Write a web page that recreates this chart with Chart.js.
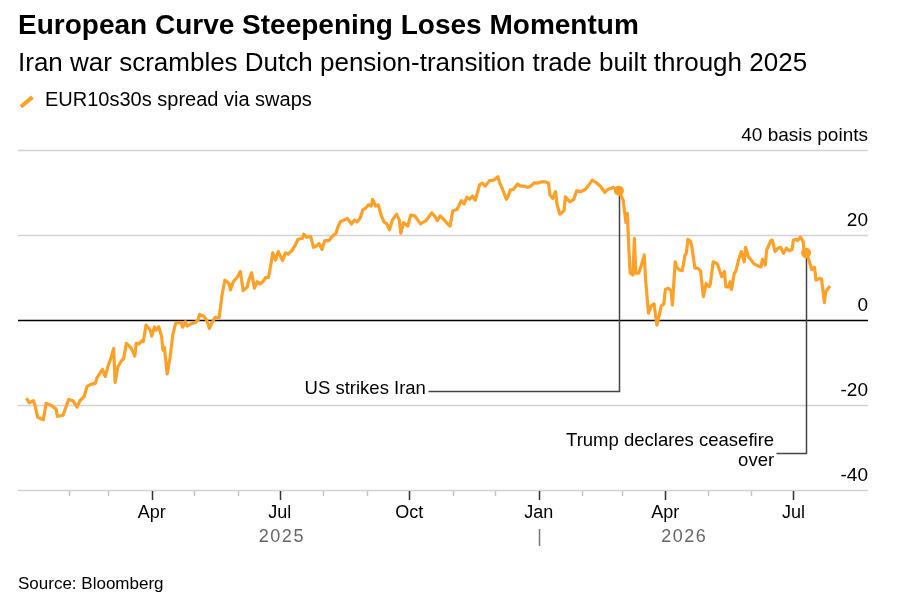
<!DOCTYPE html>
<html lang="en">
<head>
<meta charset="UTF-8">
<title>European Curve Steepening Loses Momentum</title>
<script src="https://cdn.jsdelivr.net/npm/chart.js"></script>
<style>
    body {
        margin: 0;
        background: #fff;
        font-family: "Liberation Sans", Arial, sans-serif;
        color: #000;
    }
    .wrap {
        position: relative;
        width: 905px;
        height: 611px;
        overflow: hidden;
    }
    #chart {
        position: absolute;
        left: 0;
        top: 0;
    }
    .txt {
        position: absolute;
        left: 18px;
        line-height: 1;
        white-space: nowrap;
    }
    .title { top: 11px; font-size: 28px; font-weight: bold; }
    .subtitle { top: 49px; font-size: 26px; }
    .legend { top: 89px; left: 45px; font-size: 20px; }
    .legend-key {
        position: absolute;
        left: 19px;
        top: 100px;
        width: 15px;
        height: 3.5px;
        background: #ffa028;
        transform: rotate(-40deg);
    }
    .source { top: 575px; font-size: 17px; }
</style>
</head>
<body>
<div class="wrap">
    <canvas id="chart" width="905" height="611"></canvas>
    <div class="txt title">European Curve Steepening Loses Momentum</div>
    <div class="txt subtitle">Iran war scrambles Dutch pension-transition trade built through 2025</div>
    <div class="legend-key"></div>
    <div class="txt legend">EUR10s30s spread via swaps</div>
    <div class="txt source">Source: Bloomberg</div>
</div>

<script>
    // EUR 10s30s swap spread, basis points
    const dates = [
        '2025-01-02','2025-01-04','2025-01-07','2025-01-08','2025-01-10','2025-01-14','2025-01-16','2025-01-20','2025-01-23','2025-01-24',
        '2025-01-28','2025-02-01','2025-02-04','2025-02-07','2025-02-09','2025-02-12','2025-02-14','2025-02-17','2025-02-20','2025-02-21',
        '2025-02-25','2025-02-27','2025-03-01','2025-03-03','2025-03-05','2025-03-06','2025-03-08','2025-03-11','2025-03-12','2025-03-14',
        '2025-03-17','2025-03-19','2025-03-20','2025-03-21','2025-03-23','2025-03-25','2025-03-26','2025-03-28','2025-03-31','2025-04-01',
        '2025-04-03','2025-04-04','2025-04-06','2025-04-08','2025-04-09','2025-04-10','2025-04-12','2025-04-14','2025-04-16','2025-04-18',
        '2025-04-20','2025-04-22','2025-04-23','2025-04-25','2025-04-26','2025-04-29','2025-05-02','2025-05-04','2025-05-05','2025-05-08',
        '2025-05-10','2025-05-12','2025-05-13','2025-05-16','2025-05-19','2025-05-21','2025-05-23','2025-05-26','2025-05-27','2025-05-29',
        '2025-06-01','2025-06-03','2025-06-05','2025-06-08','2025-06-09','2025-06-11','2025-06-13','2025-06-15','2025-06-17','2025-06-19',
        '2025-06-21','2025-06-23','2025-06-25','2025-06-26','2025-06-28','2025-06-30','2025-07-03','2025-07-05','2025-07-07','2025-07-10',
        '2025-07-12','2025-07-14','2025-07-17','2025-07-18','2025-07-20','2025-07-23','2025-07-25','2025-07-27','2025-07-29','2025-07-31',
        '2025-08-02','2025-08-05','2025-08-07','2025-08-10','2025-08-11','2025-08-13','2025-08-15','2025-08-18','2025-08-21','2025-08-23',
        '2025-08-25','2025-08-27','2025-08-29','2025-08-31','2025-09-02','2025-09-04','2025-09-05','2025-09-07','2025-09-09','2025-09-11',
        '2025-09-13','2025-09-15','2025-09-17','2025-09-19','2025-09-22','2025-09-24','2025-09-25','2025-09-27','2025-09-30','2025-10-02',
        '2025-10-05','2025-10-09','2025-10-13','2025-10-17','2025-10-19','2025-10-21','2025-10-23','2025-10-26','2025-10-28','2025-10-30',
        '2025-11-01','2025-11-04','2025-11-05','2025-11-07','2025-11-09','2025-11-11','2025-11-13','2025-11-15','2025-11-17','2025-11-20',
        '2025-11-22','2025-11-24','2025-11-27','2025-11-30','2025-12-03','2025-12-04','2025-12-06','2025-12-09','2025-12-10','2025-12-12',
        '2025-12-14','2025-12-17','2025-12-19','2025-12-22','2025-12-24','2025-12-26','2025-12-29','2025-12-31','2026-01-03','2026-01-06',
        '2026-01-08','2026-01-09','2026-01-11','2026-01-13','2026-01-14','2026-01-16','2026-01-19','2026-01-20','2026-01-23','2026-01-26',
        '2026-01-28','2026-01-31','2026-02-03','2026-02-05','2026-02-08','2026-02-11','2026-02-14','2026-02-17','2026-02-19','2026-02-23',
        '2026-02-25','2026-02-27','2026-03-02','2026-03-03','2026-03-04','2026-03-05','2026-03-06','2026-03-07','2026-03-09','2026-03-10',
        '2026-03-11','2026-03-13','2026-03-15','2026-03-17','2026-03-18','2026-03-20','2026-03-22','2026-03-24','2026-03-25','2026-03-26',
        '2026-03-28','2026-03-29','2026-03-31','2026-04-01','2026-04-03','2026-04-05','2026-04-06','2026-04-08','2026-04-09','2026-04-11',
        '2026-04-13','2026-04-15','2026-04-16','2026-04-17','2026-04-19','2026-04-20','2026-04-22','2026-04-24','2026-04-26','2026-04-28',
        '2026-04-30','2026-05-02','2026-05-03','2026-05-05','2026-05-08','2026-05-09','2026-05-11','2026-05-13','2026-05-14','2026-05-16',
        '2026-05-17','2026-05-18','2026-05-20','2026-05-21','2026-05-23','2026-05-25','2026-05-27','2026-05-28','2026-05-30','2026-06-01',
        '2026-06-03','2026-06-06','2026-06-08','2026-06-09','2026-06-11','2026-06-12','2026-06-15','2026-06-16','2026-06-18','2026-06-20',
        '2026-06-22','2026-06-24','2026-06-26','2026-06-28','2026-06-30','2026-07-01','2026-07-03','2026-07-04','2026-07-06','2026-07-08',
        '2026-07-09','2026-07-10','2026-07-12','2026-07-14','2026-07-16','2026-07-17','2026-07-20','2026-07-21','2026-07-23','2026-07-24',
        '2026-07-27'
    ];
    const spread = [
        -18.4, -19.5, -19.0, -20.0, -22.9, -23.5, -19.6, -20.2, -20.9, -22.7,
        -22.4, -18.7, -19.0, -20.5, -19.0, -18.0, -15.7, -15.1, -14.9, -13.7,
        -11.6, -13.3, -10.8, -9.0, -6.7, -14.7, -11.0, -9.4, -9.2, -5.5,
        -6.4, -7.7, -8.5, -5.5, -5.6, -4.9, -5.1, -1.2, -2.4, -3.8,
        -1.6, -2.4, -1.6, -3.8, -7.1, -6.4, -12.7, -9.0, -3.5, -0.8,
        -0.6, -0.6, -1.7, -0.4, -1.4, -0.9, -0.6, 0.0, 1.3, 0.9,
        0.0, -2.0, -1.2, 0.6, 0.6, 5.9, 9.4, 8.6, 7.1, 9.0,
        10.2, 11.4, 6.9, 7.8, 9.4, 11.1, 7.5, 9.0, 8.5, 9.0,
        10.0, 10.0, 13.7, 15.8, 14.1, 16.1, 14.0, 15.8, 15.5, 16.5,
        17.6, 19.0, 19.2, 20.2, 19.5, 19.6, 17.1, 17.4, 18.0, 16.6,
        18.7, 18.7, 19.6, 20.4, 21.6, 23.1, 23.4, 23.9, 22.6, 23.5,
        23.1, 23.9, 25.9, 26.3, 27.1, 26.8, 28.4, 26.8, 27.1, 24.7,
        23.1, 22.7, 21.2, 23.5, 24.9, 23.5, 20.4, 22.9, 22.1, 24.7,
        24.5, 22.6, 23.4, 25.2, 24.5, 23.4, 24.5, 23.5, 22.7, 22.1,
        25.7, 26.0, 26.7, 28.1, 27.3, 28.9, 28.4, 29.2, 28.2, 31.8,
        32.2, 31.5, 32.8, 32.9, 33.7, 32.5, 31.0, 28.4, 28.9, 30.6,
        30.7, 32.0, 31.5, 31.5, 31.2, 31.4, 32.3, 32.2, 32.5, 32.5,
        32.2, 29.4, 28.6, 30.2, 27.3, 24.9, 25.7, 29.0, 27.8, 28.4,
        30.4, 30.2, 30.7, 31.5, 32.9, 32.3, 31.4, 30.0, 30.7, 31.2,
        30.7, 30.4, 28.2, 25.5, 22.9, 25.1, 17.2, 11.0, 10.6, 19.2,
        11.0, 11.0, 12.9, 15.3, 9.4, 1.6, 3.3, 3.8, 1.2, -1.2,
        1.6, 3.3, 3.8, 7.2, 7.5, 6.9, 3.5, 13.7, 12.5, 11.8,
        11.6, 15.3, 15.8, 19.0, 18.4, 16.9, 12.2, 12.2, 11.6, 5.5,
        8.6, 7.8, 8.5, 13.7, 13.2, 12.2, 10.2, 11.4, 7.8, 7.8,
        9.0, 7.2, 11.0, 11.4, 14.1, 16.1, 13.7, 17.1, 14.9, 14.1,
        13.2, 12.7, 12.5, 14.3, 12.9, 16.5, 18.7, 18.8, 16.1, 16.9,
        17.1, 15.7, 16.9, 16.3, 16.6, 18.8, 19.0, 18.7, 19.5, 18.4,
        14.9, 15.8, 14.1, 11.9, 12.4, 9.4, 9.8, 9.6, 4.1, 6.7,
        8.0
    ];

    // annotated events
    const eventDates = ['2026-02-27', '2026-07-10'];
    const eventLabels = [['US strikes Iran'], ['Trump declares ceasefire', 'over']];

    // axis ticks
    const yTicks = [40, 20, 0, -20, -40];
    const yTickLabels = ['40 basis points', '20', '0', '-20', '-40'];
    const monthTicks = [
        '2025-02-01','2025-03-01','2025-04-01','2025-05-01','2025-06-01','2025-07-01','2025-08-01','2025-09-01','2025-10-01',
        '2025-11-01','2025-12-01','2026-01-01','2026-02-01','2026-03-01','2026-04-01','2026-05-01','2026-06-01','2026-07-01'
    ];
    const majorTicks = ['2025-04-01', '2025-07-01', '2025-10-01', '2026-01-01', '2026-04-01', '2026-07-01'];
    const majorLabels = ['Apr', 'Jul', 'Oct', 'Jan', 'Apr', 'Jul'];
    const yearLabels = ['2025', '2026'];
    const yearStarts = ['2025-01-01', '2026-01-01'];
    const xStart = '2024-12-27';
    const xEnd = '2026-08-23';

    const ORANGE = '#ffa028';
    const FONT = '"Liberation Sans", Arial, sans-serif';

    // days since 2025-01-01
    const dayNum = s => (Date.parse(s) - Date.parse('2025-01-01')) / 864e5;
    const eventIdx = eventDates.map(d => dates.indexOf(d));

    // where each annotation leader turns (value units) and how far it runs left (px)
    const leaders = [
        { elbow: -16.7, arm: 191 },
        { elbow: -31.3, arm: 30 }
    ];

    const decor = {
        id: 'decor',
        beforeDatasetsDraw(chart) {
            const { ctx, chartArea: a, scales: { x, y } } = chart;
            ctx.save();
            // horizontal grid
            yTicks.forEach(v => {
                const py = Math.round(y.getPixelForValue(v)) + 0.5;
                ctx.beginPath();
                ctx.strokeStyle = v === 0 ? '#000' : '#d2d2d2';
                ctx.lineWidth = 1.5;
                ctx.moveTo(a.left, py);
                ctx.lineTo(a.right, py);
                ctx.stroke();
            });
            // month ticks
            const base = Math.round(y.getPixelForValue(-40)) + 1;
            monthTicks.forEach(d => {
                const px = Math.round(x.getPixelForValue(dayNum(d))) + 0.5;
                const major = majorTicks.includes(d);
                ctx.beginPath();
                ctx.strokeStyle = major ? '#333' : '#c4c4c4';
                ctx.lineWidth = 1.5;
                ctx.moveTo(px, base);
                ctx.lineTo(px, base + (major ? 9 : 5));
                ctx.stroke();
            });
            // leader lines from the event markers
            eventIdx.forEach((i, k) => {
                const px = Math.round(x.getPixelForValue(dayNum(dates[i]))) + 0.5;
                const py = y.getPixelForValue(spread[i]);
                const ey = Math.round(y.getPixelForValue(leaders[k].elbow)) + 0.5;
                ctx.beginPath();
                ctx.strokeStyle = '#444';
                ctx.lineWidth = 1.5;
                ctx.moveTo(px, py);
                ctx.lineTo(px, ey);
                ctx.lineTo(px - leaders[k].arm, ey);
                ctx.stroke();
            });
            ctx.restore();
        },
        afterDatasetsDraw(chart) {
            const { ctx, chartArea: a, scales: { x, y } } = chart;
            ctx.save();
            ctx.fillStyle = '#000';
            // y labels sit above their grid lines
            ctx.font = '19px ' + FONT;
            ctx.textAlign = 'right';
            ctx.textBaseline = 'alphabetic';
            yTicks.forEach((v, i) => {
                ctx.fillText(yTickLabels[i], a.right, y.getPixelForValue(v) - 9);
            });
            // month labels
            const base = y.getPixelForValue(-40);
            ctx.font = '18px ' + FONT;
            ctx.textAlign = 'center';
            majorTicks.forEach((d, i) => {
                ctx.fillText(majorLabels[i], x.getPixelForValue(dayNum(d)), base + 28);
            });
            // year labels
            ctx.font = '18px ' + FONT;
            ctx.fillStyle = '#666';
            if ('letterSpacing' in ctx) ctx.letterSpacing = '1.5px';
            const lastDay = dayNum(dates[dates.length - 1]);
            yearLabels.forEach((t, i) => {
                const from = dayNum(yearStarts[i]);
                const to = i + 1 < yearStarts.length ? dayNum(yearStarts[i + 1]) : lastDay;
                ctx.fillText(t, x.getPixelForValue((from + to) / 2), base + 52);
            });
            if ('letterSpacing' in ctx) ctx.letterSpacing = '0px';
            // year separator
            const sx = Math.round(x.getPixelForValue(dayNum(yearStarts[1]))) + 0.5;
            ctx.beginPath();
            ctx.strokeStyle = '#777';
            ctx.lineWidth = 1.5;
            ctx.moveTo(sx, base + 39);
            ctx.lineTo(sx, base + 56);
            ctx.stroke();
            // event labels
            ctx.fillStyle = '#000';
            ctx.font = '18.5px ' + FONT;
            ctx.textAlign = 'right';
            eventIdx.forEach((i, k) => {
                const px = x.getPixelForValue(dayNum(dates[i]));
                const ey = y.getPixelForValue(leaders[k].elbow);
                const lines = eventLabels[k];
                lines.forEach((t, j) => {
                    ctx.fillText(t, px - leaders[k].arm - 2, ey + 3 - (lines.length - 1) * 10 + j * 20);
                });
            });
            ctx.restore();
        }
    };

    const ctx = document.getElementById('chart').getContext('2d');
    const spreadChart = new Chart(ctx, {
        type: 'line',
        data: {
            datasets: [{
                label: 'EUR10s30s spread via swaps',
                data: dates.map((d, i) => ({ x: dayNum(d), y: spread[i] })),
                borderColor: ORANGE,
                borderWidth: 3.2,
                borderJoinStyle: 'round',
                tension: 0,
                pointRadius: c => eventIdx.includes(c.dataIndex) ? 5 : 0,
                pointHoverRadius: 0,
                pointBackgroundColor: ORANGE,
                pointBorderWidth: 0
            }]
        },
        options: {
            responsive: false,
            animation: false,
            events: [],
            layout: { padding: { left: 18, right: 37, top: 150, bottom: 121 } },
            plugins: {
                legend: { display: false },
                tooltip: { enabled: false }
            },
            scales: {
                x: { type: 'linear', display: false, min: dayNum(xStart), max: dayNum(xEnd) },
                y: { display: false, min: -40, max: 40 }
            }
        },
        plugins: [decor]
    });
</script>
</body>
</html>
